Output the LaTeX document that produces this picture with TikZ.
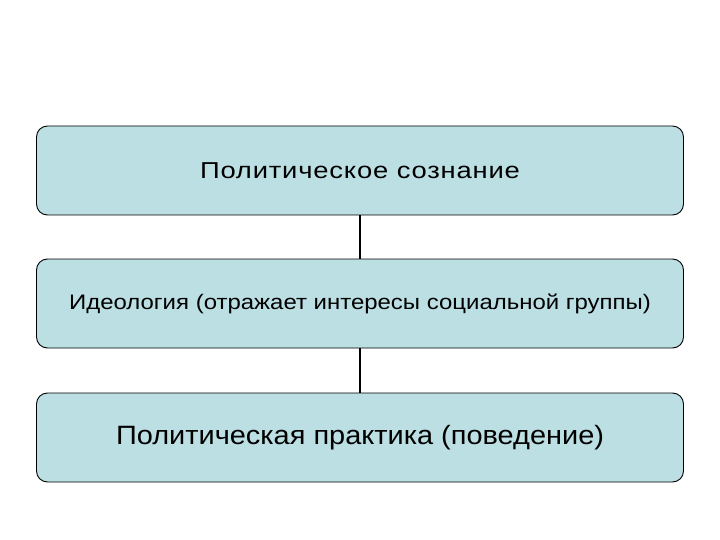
\documentclass[tikz,border=0pt]{standalone}
\usepackage{fontspec}
\usepackage{graphicx}
\setmainfont{Liberation Sans}
\definecolor{boxfill}{HTML}{BBDFE3}
\begin{document}
\begin{tikzpicture}[x=1pt,y=-1pt,
  box/.style={draw=black,line width=0.9pt,fill=boxfill,rounded corners=11pt,minimum width=647pt,minimum height=89pt,inner sep=0pt},
  link/.style={draw=black,line width=1.8pt}]
\useasboundingbox (0,0) rectangle (720,540);
\node[box,font=\fontsize{23}{26}\selectfont\addfontfeatures{LetterSpace=3}] (a) at (360,170.5) {\scalebox{1.19}[1]{Политическое сознание}};
\node[box,font=\fontsize{21}{24}\selectfont] (b) at (360,303.5) {\raisebox{-2pt}{\scalebox{1.141}[1]{Идеология (отражает интересы социальной группы)}}};
\node[box,font=\fontsize{26.5}{30}\selectfont] (c) at (360,437.5) {\scalebox{1.092}[1]{Политическая практика (поведение)}};
\draw[link] (a) -- (b);
\draw[link] (b) -- (c);
\end{tikzpicture}
\end{document}
